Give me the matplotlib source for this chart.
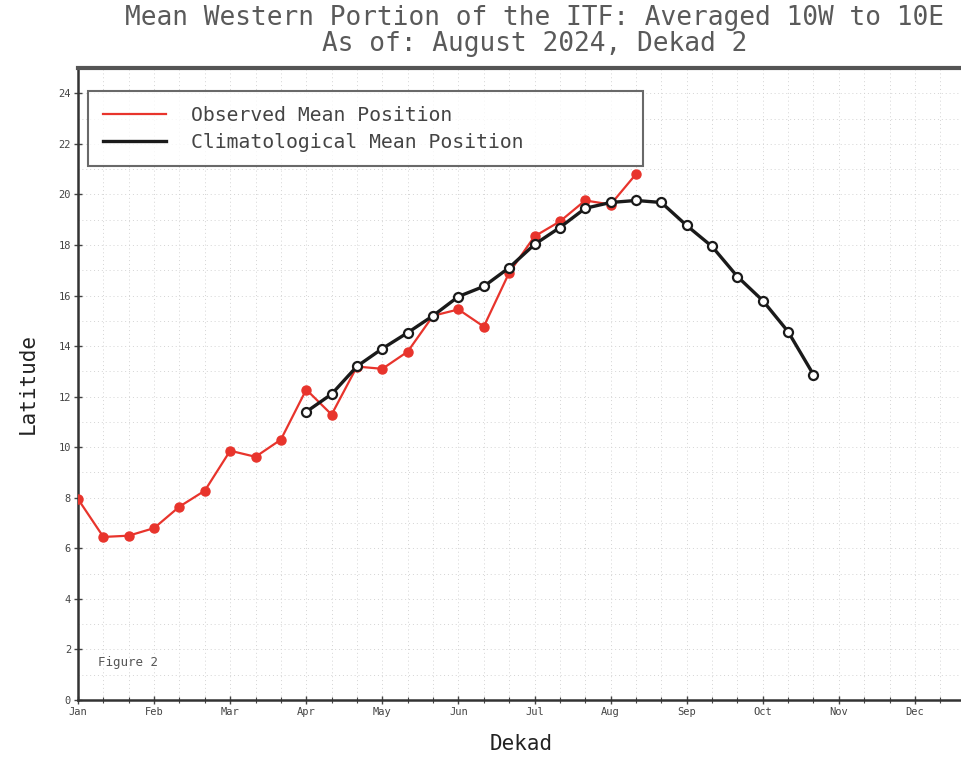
import matplotlib
matplotlib.use("Agg")
import matplotlib.pyplot as plt
from matplotlib.ticker import MultipleLocator

months = ["Jan", "Feb", "Mar", "Apr", "May", "Jun", "Jul", "Aug", "Sep", "Oct", "Nov", "Dec"]

obs_lat = [7.95, 6.45, 6.5, 6.8, 7.65, 8.28, 9.86, 9.62, 10.3, 12.28, 11.29, 13.19,
           13.1, 13.78, 15.2, 15.45, 14.77, 16.9, 18.34, 18.93, 19.76, 19.6, 20.8]
obs_dekad = list(range(0, len(obs_lat)))

clim_lat = [11.4, 12.1, 13.2, 13.9, 14.53, 15.2, 15.96, 16.36, 17.1, 18.02, 18.69,
            19.45, 19.68, 19.76, 19.68, 18.77, 17.94, 16.75, 15.8, 14.57, 12.87]
clim_dekad = list(range(9, 9 + len(clim_lat)))

FONT = "DejaVu Sans Mono"
W, H = 961, 759
fig = plt.figure(figsize=(W / 100, H / 100), dpi=100)
left, right, top, bottom = 78, 991, 68, 700
ax = fig.add_axes([left / W, 1 - bottom / H, (right - left) / W, (bottom - top) / H])

ax.set_xlim(0, 36)
ax.set_ylim(0, 25)

# grid
ax.xaxis.set_minor_locator(MultipleLocator(1))
ax.yaxis.set_minor_locator(MultipleLocator(1))
ax.grid(which="both", color="#d4d4d4", linestyle=(0, (1, 3)), linewidth=0.7)
ax.set_axisbelow(True)

red = "#e8342c"
ax.plot(obs_dekad, obs_lat, color=red, lw=1.6, marker="o", ms=6.5,
        mfc=red, mec=red, zorder=3, label="Observed Mean Position")
ax.plot(clim_dekad, clim_lat, color="#1a1a1a", lw=2.4, marker="o", ms=6.5,
        mfc="white", mec="#1a1a1a", mew=1.6, zorder=4, label="Climatological Mean Position")

ax.set_xticks(range(0, 36, 3))
ax.set_xticklabels(months, fontfamily=FONT, fontsize=7.5, color="#444444")
ax.set_yticks(range(0, 25, 2))
ax.set_yticklabels([str(v) for v in range(0, 25, 2)], fontfamily=FONT, fontsize=7.5, color="#444444")
ax.tick_params(axis="both", which="major", direction="inout", length=6, width=1, color="#444444")
ax.tick_params(axis="x", which="minor", direction="inout", length=4, width=0.8, color="#444444")
ax.tick_params(axis="y", which="minor", length=0)
ax.tick_params(axis="x", pad=2)
ax.tick_params(axis="y", pad=2)

for s in ["left", "bottom"]:
    ax.spines[s].set_linewidth(1.8)
    ax.spines[s].set_color("#333333")
ax.spines["top"].set_linewidth(3)
ax.spines["top"].set_color("#555555")
ax.spines["right"].set_visible(False)

ax.set_xlabel("Dekad", fontfamily=FONT, fontsize=15, color="#222222")
ax.xaxis.label.set_va("center")
ax.xaxis.set_label_coords((521 - left) / (right - left), -(744 - bottom) / (bottom - top))
ax.set_ylabel("Latitude", fontfamily=FONT, fontsize=15, color="#222222")
ax.yaxis.label.set_va("center")
ax.yaxis.set_label_coords(-(left - 28) / (right - left), 0.5)

ax.set_title("Mean Western Portion of the ITF: Averaged 10W to 10E\nAs of: August 2024, Dekad 2",
             fontfamily=FONT, fontsize=18.8, color="#5a5a5a", pad=12, linespacing=1.0)

ax.text(0.8, 1.35, "Figure 2", fontfamily=FONT, fontsize=9, color="#555555")

x0 = (88 - left) / (right - left)
x1 = (643 - left) / (right - left)
ytop = (bottom - 91) / (bottom - top)
leg = ax.legend(loc="upper left", bbox_to_anchor=(x0, ytop - 0.2, x1 - x0, 0.2), mode="expand",
                prop={"family": FONT, "size": 14.2}, frameon=True, fancybox=False,
                borderpad=0.75, labelspacing=0.4, handlelength=3.2, handletextpad=1.25,
                borderaxespad=0)
for h in leg.legend_handles:
    h.set_marker("")
leg.get_frame().set_edgecolor("#444444")
leg.get_frame().set_linewidth(1.5)
for t in leg.get_texts():
    t.set_color("#444444")

fig.savefig("out.png", dpi=100)
